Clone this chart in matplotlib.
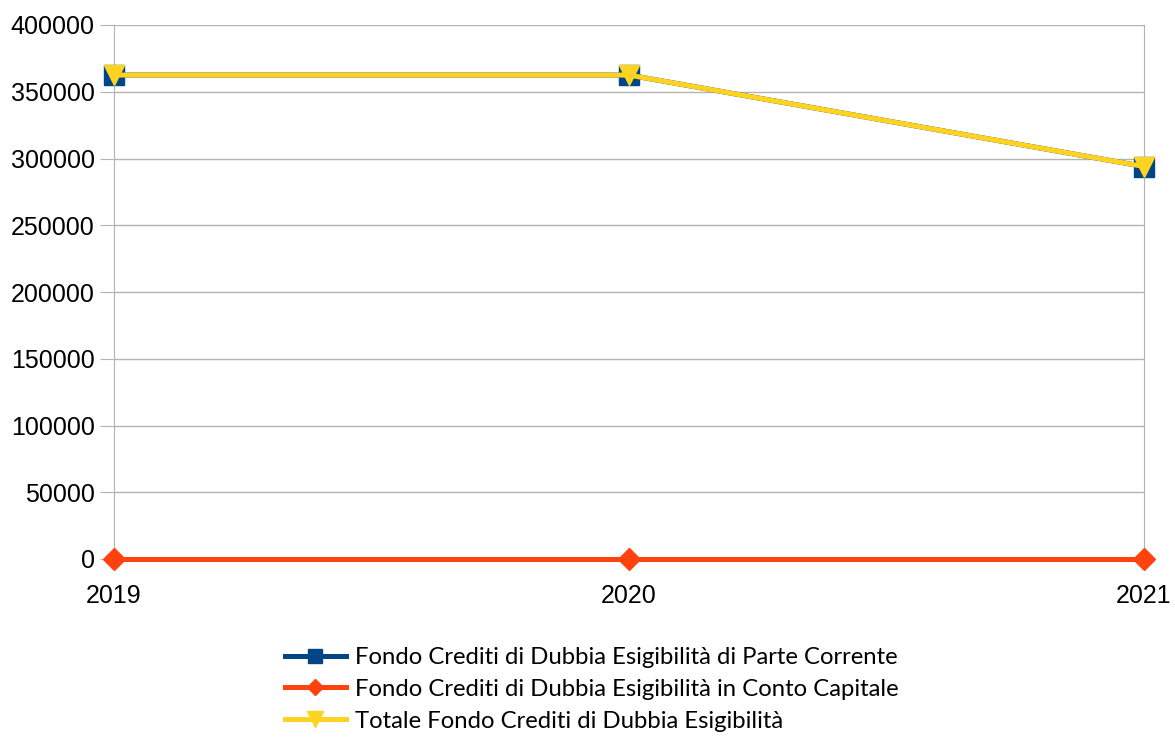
import matplotlib
matplotlib.use("Agg")
import matplotlib.pyplot as plt

anni = ["2019", "2020", "2021"]
parte_corrente = [362500, 362500, 294000]
conto_capitale = [0, 0, 0]
totale = [362500, 362500, 294000]

etichette = [
    "Fondo Crediti di Dubbia Esigibilità di Parte Corrente",
    "Fondo Crediti di Dubbia Esigibilità in Conto Capitale",
    "Totale Fondo Crediti di Dubbia Esigibilità",
]

fig = plt.figure(figsize=(11.75, 7.37), dpi=100)
ax = fig.add_axes([114 / 1175, 1 - 559 / 737, 1030 / 1175, 534 / 737])

x = range(len(anni))
ax.plot(x, parte_corrente, color="#004586", lw=3.6, marker="s", ms=14,
        clip_on=False, zorder=3, label=etichette[0])
ax.plot(x, conto_capitale, color="#ff420e", lw=3.6, marker="D", ms=11,
        clip_on=False, zorder=4, label=etichette[1])
ax.plot(x, totale, color="#ffd320", lw=3.6, marker="v", ms=15,
        clip_on=False, zorder=5, label=etichette[2])

ax.set_xlim(0, len(anni) - 1)
ax.set_ylim(0, 400000)
ax.set_yticks(range(0, 400001, 50000))
ax.set_xticks(list(x))
ax.set_xticklabels(anni)
ax.grid(axis="y", color="#b3b3b3", lw=1)
ax.set_axisbelow(True)

for s in ["top", "bottom"]:
    ax.spines[s].set_visible(False)
for s in ["left", "right"]:
    ax.spines[s].set_color("#b3b3b3")
ax.tick_params(axis="y", length=10, color="#b3b3b3", labelsize=18, pad=4)
ax.tick_params(axis="x", length=0, labelsize=18, pad=18)
for t in ax.get_xticklabels() + ax.get_yticklabels():
    t.set_fontfamily("Liberation Sans")

fig.legend(loc="upper left", bbox_to_anchor=(285 / 1175, 1 - 647 / 737),
           frameon=False, prop={"family": "Lato", "size": 17.2},
           handlelength=2.55, handletextpad=0.38, labelspacing=0.45,
           markerscale=0.75, borderaxespad=0, borderpad=0)

fig.savefig("out.png", dpi=100)
